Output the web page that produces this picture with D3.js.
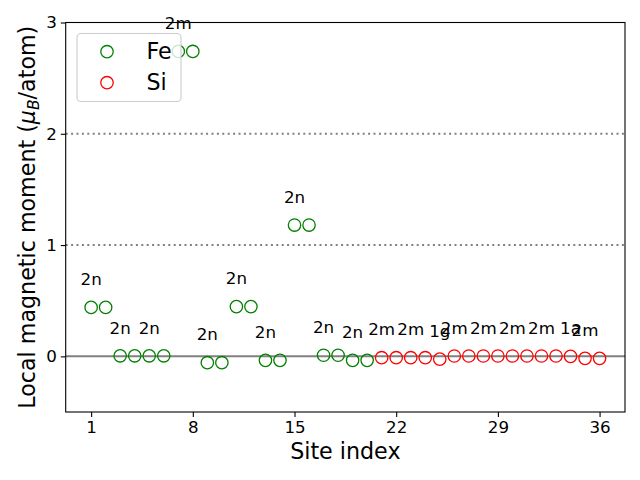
<!DOCTYPE html>
<html>
<head>
<meta charset="utf-8">
<script src="https://cdn.jsdelivr.net/npm/d3@7"></script>
<style>
  body { margin: 0; background: #fff; }
  svg text { font-family: "DejaVu Sans", sans-serif; }
</style>
</head>
<body>
<svg id="chart" width="640" height="480"></svg>
<script>
// ---- data ----
const feSites = [1,2,3,4,5,6,7,8,9,10,11,12,13,14,15,16,17,18,19,20];
const feMoments = [0.44,0.44,0.005,0.005,0.005,0.005,2.74,2.74,-0.057,-0.057,0.447,0.447,-0.036,-0.036,1.18,1.18,0.01,0.01,-0.036,-0.036];
const siSites = [21,22,23,24,25,26,27,28,29,30,31,32,33,34,35,36];
const siMoments = [-0.012,-0.012,-0.012,-0.012,-0.025,0.003,0.003,0.003,0.003,0.003,0.003,0.003,0.003,0.0,-0.018,-0.018];
const labelSites = [1,3,5,7,9,11,13,15,17,19,21,23,25,26,28,30,32,34,35];
const labelTexts = ["2n","2n","2n","2m","2n","2n","2n","2n","2n","2n","2m","2m","1g","2m","2m","2m","2m","1a","2m"];
const xTicks = [1,8,15,22,29,36];
const yTicks = [0,1,2,3];
const refLines = [1,2];
const seriesNames = ["Fe","Si"];
const seriesColors = ["#008000","#ff0000"];

// ---- layout ----
const svg = d3.select("#chart");
const L = 65.7, R = 625, T = 22.5, B = 412;
const x = d3.scaleLinear().domain([-0.75, 37.75]).range([L, R]);
const y = d3.scaleLinear().domain([-0.5, 3]).range([B, T]);

// reference lines
svg.selectAll("line.ref").data(refLines).enter().append("line")
  .attr("x1", L).attr("x2", R)
  .attr("y1", d => y(d)).attr("y2", d => y(d))
  .attr("stroke", "#808080").attr("stroke-width", 2)
  .attr("stroke-dasharray", "2,3.4");
svg.append("line")
  .attr("x1", L).attr("x2", R).attr("y1", y(0)).attr("y2", y(0))
  .attr("stroke", "#808080").attr("stroke-width", 2);

// points
const feData = feSites.map((s, i) => ({s, v: feMoments[i]}));
const siData = siSites.map((s, i) => ({s, v: siMoments[i]}));
const allData = feData.concat(siData);
const plot = svg.append("g");
plot.selectAll("circle.fe").data(feData).enter().append("circle")
  .attr("cx", d => x(d.s)).attr("cy", d => y(d.v)).attr("r", 6.2)
  .attr("fill", "none").attr("stroke", seriesColors[0]).attr("stroke-width", 1.3);
plot.selectAll("circle.si").data(siData).enter().append("circle")
  .attr("cx", d => x(d.s)).attr("cy", d => y(d.v)).attr("r", 6.2)
  .attr("fill", "none").attr("stroke", seriesColors[1]).attr("stroke-width", 1.3);

// axes
const xAxis = d3.axisBottom(x).tickValues(xTicks).tickSize(4.9).tickPadding(4).tickFormat(d3.format("d"));
const yAxis = d3.axisLeft(y).tickValues(yTicks).tickSize(4.9).tickPadding(4).tickFormat(d3.format("d"));
const gx = svg.append("g").attr("transform", `translate(0,${B})`).call(xAxis);
const gy = svg.append("g").attr("transform", `translate(${L},0)`).call(yAxis);
[gx, gy].forEach(g => {
  g.select(".domain").remove();
  g.selectAll(".tick line").attr("stroke", "#000").attr("stroke-width", 1.1);
  g.selectAll(".tick text").attr("font-size", 16.7).attr("fill", "#000")
    .style("font-family", "DejaVu Sans");
});
gx.selectAll(".tick text").attr("dy", "0.72em");
// frame
svg.append("rect").attr("x", L).attr("y", T).attr("width", R - L).attr("height", B - T)
  .attr("fill", "none").attr("stroke", "#000").attr("stroke-width", 1.1);

// site labels
const valueAt = s => allData.find(d => d.s === s).v;
svg.selectAll("text.lab").data(labelSites).enter().append("text")
  .attr("x", d => x(d)).attr("y", (d) => y(valueAt(d) + 0.2))
  .attr("text-anchor", "middle").attr("font-size", 16.7).attr("fill", "#000")
  .text((d, i) => labelTexts[i]);

// axis titles
svg.append("text").attr("x", (L + R) / 2).attr("y", 459)
  .attr("text-anchor", "middle").attr("font-size", 22.2).text("Site index");
const yl = svg.append("text").attr("transform", `translate(35,${(T + B) / 2}) rotate(-90)`)
  .attr("text-anchor", "middle").attr("font-size", 22.2);
yl.append("tspan").text("Local magnetic moment (");
yl.append("tspan").attr("font-style", "italic").text("μ");
yl.append("tspan").attr("font-style", "italic").attr("font-size", 15.5).attr("dy", 4).text("B");
yl.append("tspan").attr("dy", -4).text("/atom)");

// legend
const lg = svg.append("g");
lg.append("rect").attr("x", 77).attr("y", 33.5).attr("width", 104).attr("height", 68)
  .attr("rx", 4).attr("fill", "#fff").attr("fill-opacity", 0.8)
  .attr("stroke", "#cccccc").attr("stroke-width", 1.1);
seriesNames.forEach((n, i) => {
  lg.append("circle").attr("cx", 107).attr("cy", 51.7 + i * 31).attr("r", 6.2)
    .attr("fill", "none").attr("stroke", seriesColors[i]).attr("stroke-width", 1.3);
  lg.append("text").attr("x", 146.5).attr("y", 58.5 + i * 31)
    .attr("font-size", 22.2).attr("fill", "#000").text(n);
});
</script>
</body>
</html>
